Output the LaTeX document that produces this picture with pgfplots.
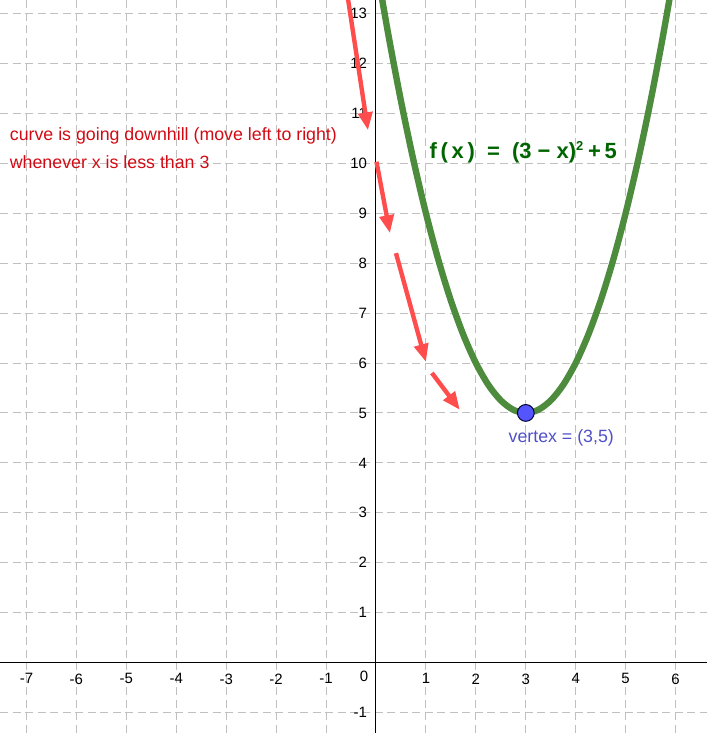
\documentclass[border=0pt]{standalone}
\usepackage{pgfplots}
\pgfplotsset{compat=1.18}
\usepackage{fontspec}
\setmainfont{Liberation Sans}
\usetikzlibrary{arrows.meta}

\definecolor{curvegreen}{RGB}{76,140,60}
\definecolor{textgreen}{RGB}{0,100,0}
\definecolor{arrowred}{RGB}{255,77,77}
\definecolor{textred}{RGB}{210,10,20}
\definecolor{vertexblue}{RGB}{85,85,255}
\definecolor{vertextext}{RGB}{80,80,200}
\definecolor{gridgray}{RGB}{192,192,192}

\begin{document}
\begin{tikzpicture}
\begin{axis}[
  scale only axis,
  width=353.5pt, height=366.5pt,
  xmin=-7.52, xmax=6.62,
  ymin=-1.4, ymax=13.26,
  axis lines=middle,
  axis line style={-, black, line width=0.5pt},
  xtick={-7,-6,-5,-4,-3,-2,-1,1,2,3,4,5,6},
  ytick={-1,1,2,3,4,5,6,7,8,9,10,11,12,13},
  grid=major,
  grid style={gridgray, line width=0.5pt, dash pattern=on 4pt off 2.25pt},
  major tick length=0pt,
  tick label style={font=\fontsize{7.5}{9}\selectfont},
  xticklabel style={yshift=-2pt},
  yticklabel style={xshift=-1pt},
  /pgf/number format/assume math mode=true,
  clip=true,
]
% the parabola f(x) = (3-x)^2 + 5, sampled values
\addplot[curvegreen, line width=3.2pt, smooth] coordinates {
  (0,14) (0.25,12.5625) (0.5,11.25) (0.75,10.0625) (1,9) (1.25,8.0625)
  (1.5,7.25) (1.75,6.5625) (2,6) (2.25,5.5625) (2.5,5.25) (2.75,5.0625)
  (3,5) (3.25,5.0625) (3.5,5.25) (3.75,5.5625) (4,6) (4.25,6.5625)
  (4.5,7.25) (4.75,8.0625) (5,9) (5.25,10.0625) (5.5,11.25) (5.75,12.5625)
  (6,14)
};
% downhill arrows
\addplot[arrowred, line width=2.2pt, -{Triangle[length=9pt,width=7pt]}] coordinates {(-0.6,13.55) (-0.16,10.66)};
\addplot[arrowred, line width=2.2pt, -{Triangle[length=9pt,width=7pt]}] coordinates {(0.01,10.03) (0.28,8.6)};
\addplot[arrowred, line width=2.2pt, -{Triangle[length=9pt,width=7pt]}] coordinates {(0.4,8.2) (1.0,6.02)};
\addplot[arrowred, line width=2.2pt, -{Triangle[length=9pt,width=7pt]}] coordinates {(1.12,5.8) (1.68,5.06)};
% vertex
\addplot[only marks, mark=*, mark size=4.2pt, mark options={fill=vertexblue, draw=black!80!blue, line width=0.5pt}] coordinates {(3,5)};

\node[font=\fontsize{7.5}{9}\selectfont] at (axis cs:-0.24,-0.27) {0};
\node[anchor=west, inner sep=0pt, textred, font=\fontsize{8.9}{10}\selectfont] at (axis cs:-7.34,10.54) {curve is going downhill (move left to right)};
\node[anchor=west, inner sep=0pt, textred, font=\fontsize{8.9}{10}\selectfont] at (axis cs:-7.34,10.02) {whenever x is less than 3};
\node[textgreen, font=\bfseries\fontsize{11}{13}\selectfont] at (axis cs:2.95,10.22) {f\,(\,x\,)\; =\; (3 − x)\textsuperscript{\fontsize{6.5}{7}\selectfont 2}\,+\,5};
\node[vertextext, font=\fontsize{8.9}{10}\selectfont] at (axis cs:3.71,4.5) {vertex = (3,5)};
\end{axis}
\end{tikzpicture}
\end{document}
